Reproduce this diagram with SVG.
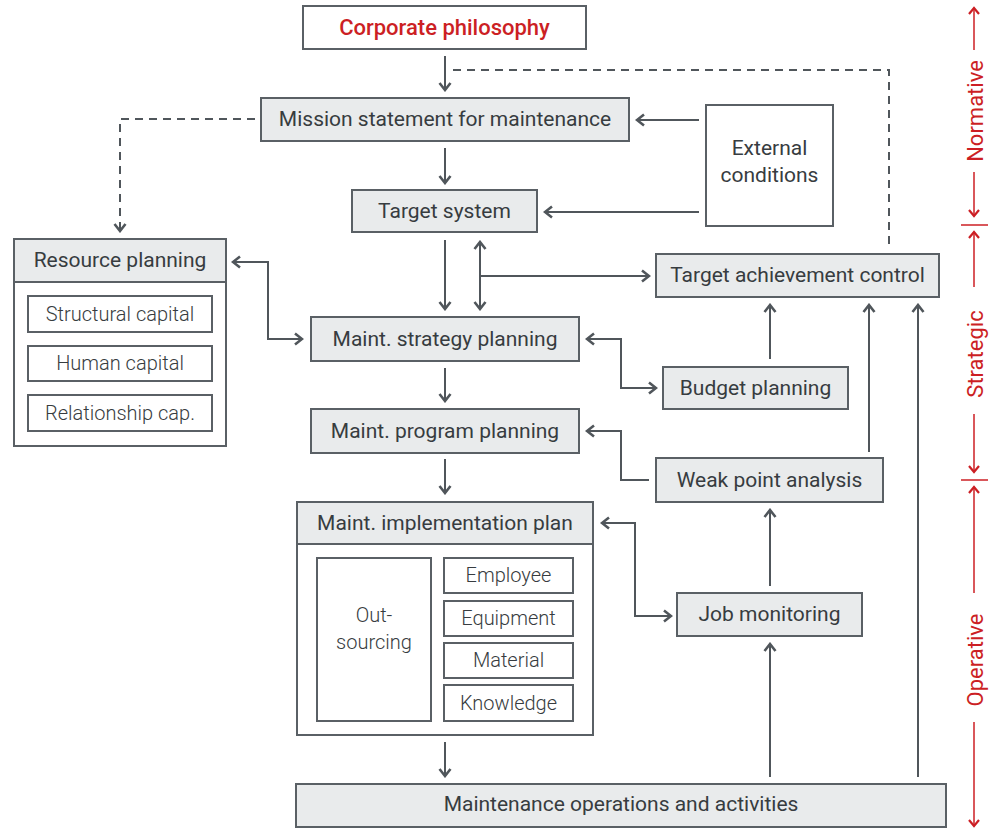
<svg xmlns="http://www.w3.org/2000/svg" width="992" height="828" viewBox="0 0 992 828">
<defs>
<style>
.box{fill:#e9ebec;stroke:#5a6065;stroke-width:2}
.wbox{fill:#ffffff;stroke:#5a6065;stroke-width:2}
.t{font-family:Roboto,"Liberation Sans",sans-serif;font-size:21px;fill:#373c40;text-anchor:middle}
.s{font-family:Roboto,"Liberation Sans",sans-serif;font-size:20px;font-weight:300;fill:#373c40;text-anchor:middle}
.red{font-family:Roboto,"Liberation Sans",sans-serif;font-size:22px;fill:#cc1f24;text-anchor:middle}
.c{fill:none;stroke:#50565b;stroke-width:2}
.d{fill:none;stroke:#50565b;stroke-width:2;stroke-dasharray:8,6}
.a{fill:none;stroke:#cc1f24;stroke-width:1.5}
</style>
<marker id="ah" viewBox="0 0 12 14" refX="10" refY="7" markerWidth="12" markerHeight="14" markerUnits="userSpaceOnUse" orient="auto-start-reverse">
<path d="M3,1.5 L10,7 L3,12.5" fill="none" stroke="#50565b" stroke-width="2.6"/>
</marker>
<marker id="rh" viewBox="0 0 12 14" refX="10" refY="7" markerWidth="12" markerHeight="14" markerUnits="userSpaceOnUse" orient="auto-start-reverse">
<path d="M4,2 L10,7 L4,12" fill="none" stroke="#cc1f24" stroke-width="2.2"/>
</marker>
</defs>
<rect width="992" height="828" fill="#ffffff"/>

<g id="connectors">
<path class="c" d="M445,56 V90" marker-end="url(#ah)"/>
<path class="d" d="M453,70 H889 V250"/>
<path class="c" d="M445,148 V183" marker-end="url(#ah)"/>
<path class="c" d="M699,120 H637" marker-end="url(#ah)"/>
<path class="c" d="M699,212 H545" marker-end="url(#ah)"/>
<path class="d" d="M255,119 H120 V231" marker-end="url(#ah)"/>
<path class="c" d="M445,240 V309" marker-end="url(#ah)"/>
<path class="c" d="M480,242 V309" marker-start="url(#ah)" marker-end="url(#ah)"/>
<path class="c" d="M480,276 H649" marker-end="url(#ah)"/>
<path class="c" d="M233,262 H268 V339 H302" marker-start="url(#ah)" marker-end="url(#ah)"/>
<path class="c" d="M445,368 V401" marker-end="url(#ah)"/>
<path class="c" d="M445,459 V493" marker-end="url(#ah)"/>
<path class="c" d="M587,339 H621 V388 H656" marker-start="url(#ah)" marker-end="url(#ah)"/>
<path class="c" d="M649,480 H621 V431 H587" marker-end="url(#ah)"/>
<path class="c" d="M770,359 V305" marker-end="url(#ah)"/>
<path class="c" d="M869,452 V305" marker-end="url(#ah)"/>
<path class="c" d="M918,777 V305" marker-end="url(#ah)"/>
<path class="c" d="M602,523 H635 V616 H671" marker-start="url(#ah)" marker-end="url(#ah)"/>
<path class="c" d="M770,586 V510" marker-end="url(#ah)"/>
<path class="c" d="M770,777 V644" marker-end="url(#ah)"/>
<path class="c" d="M445,742 V776" marker-end="url(#ah)"/>
</g>

<g id="corporate-philosophy">
<rect class="wbox" x="303" y="6" width="283" height="43"/>
<text class="red" x="444.5" y="35" style="font-weight:500">Corporate philosophy</text>
</g>
<g id="mission-statement">
<rect class="box" x="261" y="98" width="368" height="43"/>
<text class="t" x="445" y="126">Mission statement for maintenance</text>
</g>
<g id="external-conditions">
<rect class="wbox" x="706" y="105" width="127" height="121"/>
<text class="t" x="769.5" y="155">External</text>
<text class="t" x="769.5" y="182">conditions</text>
</g>
<g id="target-system">
<rect class="box" x="352" y="190" width="185" height="42"/>
<text class="t" x="444.5" y="217.5">Target system</text>
</g>
<g id="resource-planning">
<rect class="wbox" x="14" y="239" width="212" height="207"/>
<rect class="box" x="14" y="239" width="212" height="43"/>
<text class="t" x="120" y="267">Resource planning</text>
<rect class="wbox" x="28" y="296" width="184" height="36"/>
<text class="s" x="120" y="320.5">Structural capital</text>
<rect class="wbox" x="28" y="346" width="184" height="35"/>
<text class="s" x="120" y="370">Human capital</text>
<rect class="wbox" x="28" y="395" width="184" height="36"/>
<text class="s" x="120" y="419.5">Relationship cap.</text>
</g>
<g id="target-achievement-control">
<rect class="box" x="656" y="254" width="283" height="43"/>
<text class="t" x="797.5" y="282">Target achievement control</text>
</g>
<g id="strategy-planning">
<rect class="box" x="311" y="317" width="268" height="44"/>
<text class="t" x="445" y="345.5">Maint. strategy planning</text>
</g>
<g id="budget-planning">
<rect class="box" x="663" y="367" width="185" height="42"/>
<text class="t" x="755.5" y="394.5">Budget planning</text>
</g>
<g id="program-planning">
<rect class="box" x="311" y="409" width="268" height="44"/>
<text class="t" x="445" y="437.5">Maint. program planning</text>
</g>
<g id="weak-point-analysis">
<rect class="box" x="656" y="458" width="227" height="44"/>
<text class="t" x="769.5" y="486.5">Weak point analysis</text>
</g>
<g id="implementation-plan">
<rect class="wbox" x="297" y="502" width="296" height="233"/>
<rect class="box" x="297" y="502" width="296" height="42"/>
<text class="t" x="445" y="529.5">Maint. implementation plan</text>
<rect class="wbox" x="317" y="558" width="114" height="163"/>
<text class="s" x="374" y="621.5">Out-</text>
<text class="s" x="374" y="648.5">sourcing</text>
<rect class="wbox" x="444" y="558" width="129" height="35"/>
<text class="s" x="508.5" y="582">Employee</text>
<rect class="wbox" x="444" y="601" width="129" height="35"/>
<text class="s" x="508.5" y="625">Equipment</text>
<rect class="wbox" x="444" y="643" width="129" height="35"/>
<text class="s" x="508.5" y="667">Material</text>
<rect class="wbox" x="444" y="685" width="129" height="36"/>
<text class="s" x="508.5" y="709.5">Knowledge</text>
</g>
<g id="job-monitoring">
<rect class="box" x="677" y="593" width="185" height="43"/>
<text class="t" x="769.5" y="621">Job monitoring</text>
</g>
<g id="maintenance-operations">
<rect class="box" x="296" y="784" width="650" height="43"/>
<text class="t" x="621" y="811">Maintenance operations and activities</text>
</g>

<g id="levels-axis">
<path class="a" d="M974,50 V8" marker-end="url(#rh)"/>
<text class="red" transform="translate(982.5,111) rotate(-90)">Normative</text>
<path class="a" d="M974,172 V216" marker-end="url(#rh)"/>
<path class="a" d="M961,225 H988"/>
<path class="a" d="M974,287 V232" marker-end="url(#rh)"/>
<text class="red" transform="translate(982.5,354) rotate(-90)">Strategic</text>
<path class="a" d="M974,414 V472" marker-end="url(#rh)"/>
<path class="a" d="M961,480 H988"/>
<path class="a" d="M974,593 V487" marker-end="url(#rh)"/>
<text class="red" transform="translate(982.5,660) rotate(-90)">Operative</text>
<path class="a" d="M974,722 V826" marker-end="url(#rh)"/>
</g>
</svg>
